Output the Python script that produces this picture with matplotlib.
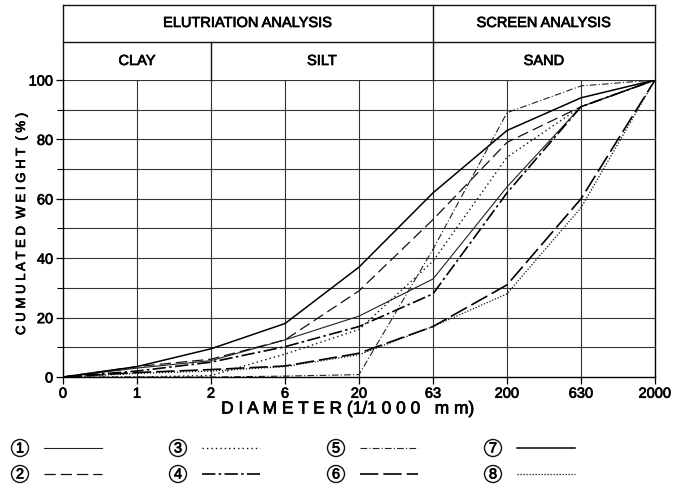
import matplotlib
matplotlib.use("Agg")
import matplotlib.pyplot as plt
import matplotlib.patheffects as pe
from matplotlib.lines import Line2D
from matplotlib.patches import Circle

plt.rcParams['font.family'] = ['Liberation Sans', 'DejaVu Sans']

# particle size classes (1/1000 mm), plotted at equal spacing
diam_labels = ['0', '1', '2', '6', '20', '63', '200', '630', '2000']

# cumulated weight (%) per sample
s1 = [0, 3.0, 5.5, 12.5, 20.5, 33, 64, 91, 100]
s2 = [0, 3.5, 6.0, 12.5, 29, 53, 79, 91, 100]
s3 = [0, 0.0, 0.5, 7.7, 16, 39, 74, 91, 100]
s4 = [0, 2.0, 5.0, 10.2, 17, 28, 62, 91, 100]
s5 = [0, 0.0, 0.0, 0.3, 0.8, 43, 89, 98, 100]
s6 = [0, 1.5, 2.5, 3.7, 8, 17, 31, 60, 100]
s7 = [0, 3.5, 9.5, 18, 37, 62, 83, 94, 100]
s8 = [0, 1.2, 2.0, 3.5, 7.5, 17, 28, 57, 100]
samples = [s1, s2, s3, s4, s5, s6, s7, s8]

styles = [
    dict(ls='-', lw=0.8, color='#222222'),
    dict(ls=(0, (9, 4)), lw=0.9, color='#111111'),
    dict(ls=(0, (1, 2.2)), lw=1.0, color='#111111'),
    dict(ls=(0, (8, 2, 1.5, 2)), lw=1.2, color='#000000'),
    dict(ls=(0, (6, 2, 1, 2)), lw=0.8, color='#222222'),
    dict(ls=(0, (11, 3)), lw=1.2, color='#000000'),
    dict(ls='-', lw=1.1, color='#000000'),
    dict(ls=(0, (1, 1.4)), lw=0.9, color='#111111'),
]

# slightly heavier type, like the printed lettering
heavy = [pe.withStroke(linewidth=0.5, foreground='black')]

W, H = 679, 491
fig = plt.figure(figsize=(W / 100, H / 100), dpi=100)
L, R, B, T = 63, 655, 377, 80
ax = fig.add_axes([L / W, 1 - B / H, (R - L) / W, (B - T) / H])

x = list(range(len(diam_labels)))
for vals, st in zip(samples, styles):
    ax.plot(x, vals, **st)

ax.set_xlim(0, len(diam_labels) - 1)
ax.set_ylim(0, 100)
ax.set_xticks(x)
ax.set_xticklabels(diam_labels)
ax.set_yticks(range(0, 101, 20))
ax.set_yticks(range(10, 100, 20), minor=True)
ax.tick_params(axis='both', direction='out', length=5, width=0.9, labelsize=10.5, pad=2)
ax.tick_params(axis='y', which='minor', length=4, width=0.8)
for lab in ax.get_xticklabels() + ax.get_yticklabels():
    lab.set_path_effects(heavy)

grid_kw = dict(color='#333333', lw=0.8, zorder=0)
for yv in range(10, 101, 10):
    ax.axhline(yv, **grid_kw)
for xv in x[1:-1]:
    ax.axvline(xv, **grid_kw)

ax.spines['top'].set_visible(False)
for sp in ['left', 'right', 'bottom']:
    ax.spines[sp].set_linewidth(1.0)

# header boxes above the plot
top = (B - 5) / (B - T)
mid = (B - 42) / (B - T)
hk = dict(transform=ax.get_xaxis_transform(), clip_on=False, color='#111111', lw=1.0)
ax.plot([0, 0], [1, top], **hk)
ax.plot([8, 8], [1, top], **hk)
ax.plot([0, 8], [top, top], **hk)
ax.plot([0, 8], [mid, mid], **hk)
ax.plot([5, 5], [1, top], **hk)
ax.plot([2, 2], [1, mid], **hk)

tk = dict(transform=ax.get_xaxis_transform(), ha='center', va='center',
          fontsize=10.5, path_effects=heavy)
row1 = (B - 23) / (B - T)
row2 = (B - 61) / (B - T)
ax.text(2.5, row1, 'ELUTRIATION ANALYSIS', **tk)
ax.text(6.5, row1, 'SCREEN ANALYSIS', **tk)
ax.text(1.0, row2, 'CLAY', **tk)
ax.text(3.5, row2, 'SILT', **tk)
ax.text(6.5, row2, 'SAND', **tk)

fig.text(22 / W, 1 - 224 / H, 'C U M U L A T E D  W E I G H T  ( % )',
         rotation=90, ha='center', va='center', fontsize=9.5, path_effects=heavy)
fig.text(348 / W, 1 - 409 / H, 'D I A M E T E R (1/1 0 0 0   m m)',
         ha='center', va='center', fontsize=12.5, path_effects=heavy)

# legend: circled sample numbers with line samples
lax = fig.add_axes([0, 0, 1, 1])
lax.set_xlim(0, W)
lax.set_ylim(H, 0)
lax.axis('off')
col_x = [20, 178, 336, 493]
row_y = [448, 474]
for i, st in enumerate(styles):
    cx = col_x[i // 2]
    cy = row_y[i % 2]
    lax.add_patch(Circle((cx, cy), 8.5, fill=False, lw=1.0, color='#111111'))
    lax.text(cx, cy + 0.5, str(i + 1), ha='center', va='center', fontsize=10.5,
             path_effects=heavy)
    lax.add_line(Line2D([cx + 24, cx + 82], [cy, cy], **st))

fig.savefig('out.png', dpi=100)
